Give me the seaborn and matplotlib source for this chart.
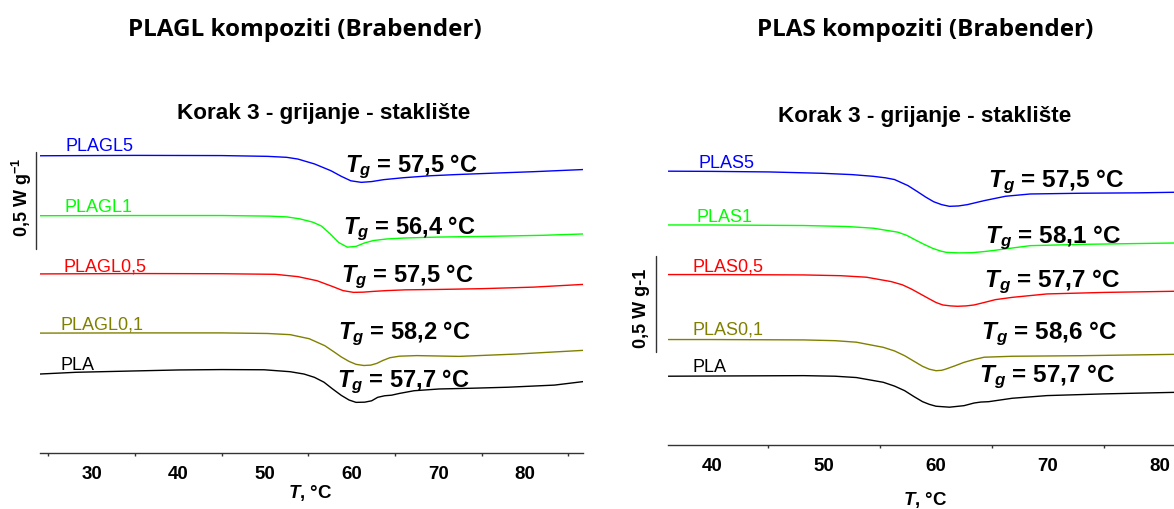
import numpy as np
import pandas as pd
import matplotlib
matplotlib.use('Agg')
import matplotlib.pyplot as plt
import seaborn as sns

sns.set_style('white')
plt.rcParams['font.family'] = ['Liberation Sans', 'DejaVu Sans']
plt.rcParams['text.color'] = 'black'
plt.rcParams['xtick.color'] = 'black'
plt.rcParams['mathtext.fontset'] = 'custom'
plt.rcParams['mathtext.rm'] = 'Liberation Sans'
plt.rcParams['mathtext.it'] = 'Liberation Sans:italic'
plt.rcParams['mathtext.bf'] = 'Liberation Sans:bold'
plt.rcParams['mathtext.bfit'] = 'Liberation Sans:italic:bold'

# ================= podaci (očitano sa slike) =================
# lijevo: PLAGL kompoziti, T u °C, toplinski tok u W/g (s pomakom)
t_plagl5 = [24.0, 35, 45, 50.3, 52.5, 53.8, 55.7, 57.6, 58.8, 59.9, 61.1, 62.3, 63.7, 66, 69.1, 72, 76.7, 81, 86.7]
hf_plagl5 = [1.527, 1.529, 1.528, 1.524, 1.519, 1.510, 1.485, 1.450, 1.421, 1.398, 1.390, 1.394, 1.404, 1.414, 1.424, 1.430, 1.438, 1.445, 1.456]

t_plagl1 = [24.0, 35, 45, 50.5, 52.5, 54.0, 55.5, 56.5, 57.5, 58.5, 59.5, 60.5, 61.5, 62.5, 64, 66, 70, 76, 82, 86.7]
hf_plagl1 = [1.218, 1.219, 1.219, 1.216, 1.212, 1.202, 1.185, 1.165, 1.125, 1.080, 1.056, 1.060, 1.078, 1.090, 1.098, 1.103, 1.108, 1.112, 1.117, 1.124]

t_plagl05 = [24.0, 35, 45, 51.2, 53.8, 56.0, 57.8, 59.0, 60.2, 61.3, 62.5, 64, 66.2, 70, 75, 81, 86.7]
hf_plagl05 = [0.918, 0.920, 0.919, 0.916, 0.904, 0.883, 0.853, 0.832, 0.823, 0.824, 0.828, 0.832, 0.836, 0.838, 0.842, 0.850, 0.864]

t_plagl01 = [24.0, 35, 45, 50.3, 52.9, 55.1, 56.9, 58.0, 58.8, 59.7, 60.5, 61.4, 62.2, 62.9, 63.6, 64.4, 65.5, 67.5, 72.4, 79, 86.7]
hf_plagl01 = [0.613, 0.614, 0.614, 0.611, 0.605, 0.584, 0.548, 0.515, 0.490, 0.467, 0.452, 0.446, 0.448, 0.457, 0.472, 0.486, 0.494, 0.497, 0.493, 0.505, 0.524]

t_pla_l = [24.0, 28.2, 35, 40, 45, 49.9, 52.9, 54.5, 55.7, 56.8, 57.8, 58.8, 59.7, 60.5, 61.5, 62.3, 63.0, 63.8, 64.6, 65.5, 67.2, 70.1, 74, 78, 83.4, 86.7]
hf_pla_l = [0.402, 0.411, 0.418, 0.423, 0.425, 0.424, 0.414, 0.402, 0.385, 0.360, 0.325, 0.292, 0.268, 0.256, 0.257, 0.264, 0.282, 0.290, 0.293, 0.302, 0.316, 0.325, 0.329, 0.334, 0.345, 0.363]

# desno: PLAS kompoziti
t_plas5 = [36.12, 40, 45.1, 49.8, 52.5, 54.4, 55.5, 56.3, 57.5, 58.3, 59.1, 59.8, 60.5, 61.2, 62.0, 62.8, 64.3, 66.2, 68.4, 73, 78, 81.23]
hf_plas5 = [1.446, 1.445, 1.442, 1.435, 1.428, 1.419, 1.411, 1.402, 1.370, 1.340, 1.309, 1.285, 1.270, 1.261, 1.263, 1.270, 1.291, 1.314, 1.326, 1.330, 1.332, 1.335]

t_plas1 = [36.12, 40, 48.2, 52, 54.4, 56.6, 57.4, 58.1, 58.9, 59.7, 60.4, 60.9, 62.0, 63.2, 64.3, 65.3, 66.2, 68.4, 73, 81.23]
hf_plas1 = [1.163, 1.163, 1.160, 1.155, 1.146, 1.125, 1.108, 1.086, 1.062, 1.040, 1.026, 1.019, 1.016, 1.017, 1.023, 1.030, 1.037, 1.054, 1.061, 1.068]

t_plas05 = [36.12, 40, 48.2, 51.5, 53.8, 56.0, 57.0, 57.8, 58.6, 59.4, 60.0, 60.6, 61.3, 61.9, 62.7, 63.4, 64.3, 65.3, 66.8, 69.9, 75, 81.23]
hf_plas05 = [0.902, 0.902, 0.900, 0.896, 0.888, 0.865, 0.848, 0.826, 0.800, 0.774, 0.755, 0.742, 0.737, 0.735, 0.737, 0.742, 0.755, 0.770, 0.782, 0.800, 0.808, 0.814]

t_plas01 = [36.12, 40, 48.2, 51, 52.9, 55.3, 56.3, 57.2, 58.0, 58.8, 59.4, 60.0, 60.5, 60.9, 61.7, 62.5, 63.4, 64.3, 66.8, 73, 81.23]
hf_plas01 = [0.560, 0.560, 0.558, 0.554, 0.546, 0.519, 0.500, 0.475, 0.447, 0.419, 0.404, 0.396, 0.398, 0.405, 0.422, 0.440, 0.455, 0.467, 0.472, 0.475, 0.482]

t_pla_r = [36.12, 40, 48.2, 51, 52.9, 55.3, 56.3, 57.2, 58.0, 58.8, 59.4, 60.0, 61.2, 62.5, 63.4, 64.0, 64.7, 66.8, 69.9, 75, 81.23]
hf_pla_r = [0.367, 0.368, 0.370, 0.367, 0.360, 0.335, 0.315, 0.291, 0.261, 0.233, 0.219, 0.209, 0.204, 0.212, 0.226, 0.231, 0.233, 0.251, 0.265, 0.274, 0.282]

names_l = ['PLAGL5', 'PLAGL1', 'PLAGL0,5', 'PLAGL0,1', 'PLA']
names_r = ['PLAS5', 'PLAS1', 'PLAS0,5', 'PLAS0,1', 'PLA']
tg_l = ['57,5', '56,4', '57,5', '58,2', '57,7']
tg_r = ['57,5', '58,1', '57,7', '58,6', '57,7']
boje = ['#0000ff', '#00ff00', '#ff0000', '#808000', '#000000']

# ================= tablice za seaborn =================
def tablica(imena, serije):
    dijelovi = []
    for ime, (t, hf) in zip(imena, serije):
        dijelovi.append(pd.DataFrame({'T': t, 'HF': hf, 'uzorak': ime}))
    return pd.concat(dijelovi, ignore_index=True)

df_l = tablica(names_l, [(t_plagl5, hf_plagl5), (t_plagl1, hf_plagl1), (t_plagl05, hf_plagl05),
                         (t_plagl01, hf_plagl01), (t_pla_l, hf_pla_l)])
df_r = tablica(names_r, [(t_plas5, hf_plas5), (t_plas1, hf_plas1), (t_plas05, hf_plas05),
                         (t_plas01, hf_plas01), (t_pla_r, hf_pla_r)])

W, H = 1174, 510
fig = plt.figure(figsize=(W / 100, H / 100), dpi=100)

def fx(x):
    return x / W

def fy(y):
    return 1 - y / H

ax_l = fig.add_axes([fx(40), fy(454), (583.3 - 40) / W, (454 - 130) / H])
ax_r = fig.add_axes([fx(668.3), fy(446), (W - 668.3) / W, (446 - 130) / H])

for ax, df, imena in [(ax_l, df_l, names_l), (ax_r, df_r, names_r)]:
    sns.lineplot(data=df, x='T', y='HF', hue='uzorak', hue_order=imena,
                 palette=dict(zip(imena, boje)), estimator=None, sort=False,
                 linewidth=1.0, legend=False, ax=ax)
    ax.set_xlabel('')
    ax.set_ylabel('')
    ax.set_yticks([])
    for s in ['left', 'right', 'top']:
        ax.spines[s].set_visible(False)
    ax.spines['bottom'].set_color('#333333')
    ax.spines['bottom'].set_linewidth(1.0)
    ax.tick_params(axis='x', which='major', direction='out', length=3.8, width=1.0,
                   color='#333333', labelcolor='black', pad=4.5, labelsize=13.5)
    ax.tick_params(axis='x', which='minor', direction='out', length=2.4, width=1.0,
                   color='#333333', bottom=True)

ax_l.set_xlim(24.04, 86.72)
ax_l.set_ylim(-0.005, 1.665)
ax_l.set_xticks([30, 40, 50, 60, 70, 80])
ax_l.set_xticks([25, 35, 45, 55, 65, 75, 85], minor=True)
ax_r.set_xlim(36.12, 81.23)
ax_r.set_ylim(0.005, 1.668)
ax_r.set_xticks([40, 50, 60, 70, 80])
ax_r.set_xticks([45, 55, 65, 75], minor=True)
for ax in (ax_l, ax_r):
    for lab in ax.get_xticklabels():
        lab.set_fontweight('bold')
        lab.set_fontsize(13.5)

# mjerilo 0,5 W/g
ax_l.plot([23.54, 23.54], [1.046, 1.545], color='#333333', lw=1.0, clip_on=False)
ax_r.plot([35.0, 35.0], [0.493, 0.998], color='#333333', lw=1.0, clip_on=False)
fig.text(fx(21.7), fy(197), r'0,5 W g$^{\mathbf{-1}}$', rotation=90, ha='center', va='center',
         fontsize=13, fontweight='bold')
fig.text(fx(641.7), fy(308), '0,5 W g-1', rotation=90, ha='center', va='center',
         fontsize=13, fontweight='bold')

# naslovi
fig.text(fx(305), fy(30), 'PLAGL kompoziti (Brabender)', ha='center', va='center',
         fontsize=17.5, fontweight='bold', family=['Open Sans', 'DejaVu Sans'])
fig.text(fx(925), fy(30), 'PLAS kompoziti (Brabender)', ha='center', va='center',
         fontsize=17.5, fontweight='bold', family=['Open Sans', 'DejaVu Sans'])
fig.text(fx(324), fy(113), 'Korak 3 - grijanje - stakli\u0161te',
         ha='center', va='center', fontsize=16.2, fontweight='bold')
fig.text(fx(925), fy(117), 'Korak 3 - grijanje - stakli\u0161te',
         ha='center', va='center', fontsize=16.2, fontweight='bold')

# os x
fig.text(fx(310.5), fy(493), r'$\mathbfit{T}$, °C', ha='center', va='center',
         fontsize=13.5, fontweight='bold')
fig.text(fx(925), fy(500), r'$\mathbfit{T}$, °C', ha='center', va='center',
         fontsize=13.5, fontweight='bold')

# oznake krivulja
poz_l = [(65.7, 146.7), (65, 207), (63.3, 267), (61, 325), (60, 366)]
poz_r = [(698, 164), (697, 218), (692.7, 267), (692, 330), (692, 367)]
for imena, pozicije in [(names_l, poz_l), (names_r, poz_r)]:
    for ime, (x, y), c in zip(imena, pozicije, boje):
        fig.text(fx(x), fy(y), ime, ha='left', va='center', fontsize=13, color=c)

# staklište Tg
tgpoz_l = [(345, 172), (343, 234), (341, 282), (338, 339), (337, 387)]
tgpoz_r = [(988, 187), (985, 243), (984, 287), (981, 339), (979, 382)]
for vrijednosti, pozicije, fs in [(tg_l, tgpoz_l, 17), (tg_r, tgpoz_r, 17.5)]:
    for v, (x, y) in zip(vrijednosti, pozicije):
        fig.text(fx(x), fy(y), r'$\mathbfit{T}_{\mathbfit{g}}$ = ' + v + ' °C',
                 ha='left', va='baseline', fontsize=fs, fontweight='bold')

plt.savefig('out.png', dpi=100)
